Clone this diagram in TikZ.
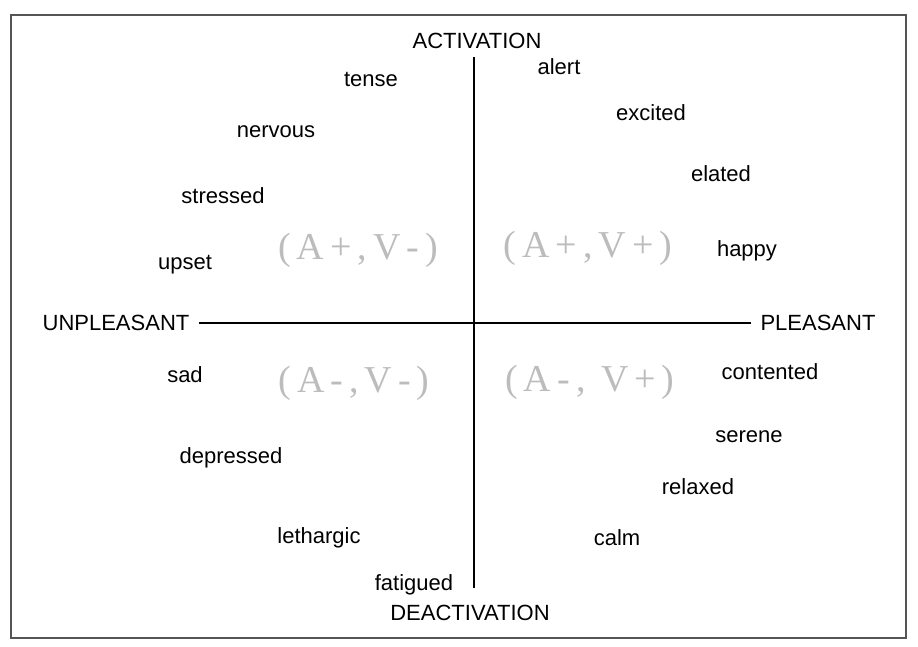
\documentclass[tikz,border=0pt]{standalone}
\usepackage{fontspec}
\setmainfont{Liberation Sans}
\newfontfamily\quadfont{Liberation Serif}
\usetikzlibrary{positioning}
\definecolor{quadgray}{RGB}{188,188,188}
\definecolor{framegray}{RGB}{85,85,85}
\newcommand{\qk}{\kern3pt}
\tikzset{
  mood/.style={font=\fontsize{11}{13}\selectfont, inner sep=2pt},
  axislabel/.style={font=\fontsize{11}{13}\selectfont, inner sep=4.5pt},
  quadlabel/.style={font=\quadfont\fontsize{19}{23}\selectfont, text=quadgray, inner sep=2pt},
  axis/.style={line width=1pt, draw=black}
}

\begin{document}
\begin{tikzpicture}[x=0.5pt, y=-0.5pt]
    \useasboundingbox (0,0) rectangle (918,647);
    \draw[framegray, line width=0.8pt] (11,15) rectangle (906,638);

    \node[axislabel] (act) at (477,41) {ACTIVATION};
    \node[axislabel] (deact) at (470,613) {DEACTIVATION};
    \node[axislabel] (unpl) at (116,323) {UNPLEASANT};
    \node[axislabel] (pleas) at (818,323) {PLEASANT};

    \coordinate (vtop) at (474,57);
    \coordinate (vbot) at (474,588);
    \draw[axis] (vtop) -- (vbot);
    \draw[axis] (unpl.east) -- (pleas.west);

    % activated, unpleasant
    \node[mood] (tense) at (371,79) {tense};
    \node[mood] (nervous) at (276,132) {nervous};
    \node[mood] (stressed) at (223,196) {stressed};
    \node[mood] (upset) at (185,265) {upset};
    % activated, pleasant
    \node[mood] (alert) at (559,67) {alert};
    \node[mood] (excited) at (651,113) {excited};
    \node[mood] (elated) at (721,174) {elated};
    \node[mood] (happy) at (747,251) {happy};
    % deactivated, unpleasant
    \node[mood] (sad) at (185,375) {sad};
    \node[mood] (depressed) at (231,458) {depressed};
    \node[mood] (lethargic) at (319,538) {lethargic};
    \node[mood] (fatigued) at (414,585) {fatigued};
    % deactivated, pleasant
    \node[mood] (contented) at (770,372) {contented};
    \node[mood] (serene) at (749,437) {serene};
    \node[mood] (relaxed) at (698,487) {relaxed};
    \node[mood] (calm) at (617,538) {calm};

    \node[quadlabel] (qap) at (358,250) {(\qk A\qk+\qk,\qk V\qk-\qk)};
    \node[quadlabel] (qaa) at (588,248) {(\qk A\qk+\qk,\qk V\qk+\qk)};
    \node[quadlabel] (qdp) at (354,383) {(\qk A\qk-\qk,\qk V\qk-\qk)};
    \node[quadlabel] (qda) at (590,382) {(\qk A\qk-\qk, \qk V\qk+\qk)};
\end{tikzpicture}
\end{document}
